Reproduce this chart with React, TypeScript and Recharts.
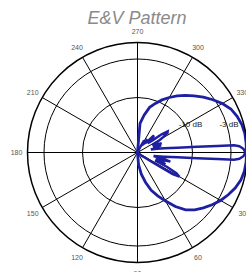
import { RadarChart, Radar, PolarGrid, PolarAngleAxis, PolarRadiusAxis } from "recharts";

// angles are clockwise from 3 o'clock (270 = top), values in dB
const ANGLE_TICKS = [0, 30, 60, 90, 120, 150, 180, 210, 240, 270, 300, 330];
const DB_TICKS = [-10, -3];

// broad pattern (the round lobe)
const E_ANGLES = [
    270, 275, 280, 285, 290, 295, 300, 305, 310, 315, 320, 325, 330, 335, 340, 345, 350, 355,
    0, 5, 10, 15, 20, 25, 30, 35, 40, 45, 50, 55, 60, 65, 70, 75, 80, 85, 90, 180,
];
const E_DB = [
    -20, -14.7, -13.1, -11.5, -10.5, -9.45, -8.45, -7.45, -6.45, -5.45, -4.36, -3.27, -2.18, -1.27, -0.73, -0.36, -0.18, -0.18,
    -0.18, -0.18, -0.27, -0.55, -1.1, -1.8, -2.55, -3.45, -4.36, -5.27, -6.4, -8.0, -9.8, -11.3, -12.7, -14.4, -16, -17.8, -20, -20,
];

// narrow beam with side lobes
const V_ANGLES = [
    270, 290, 296, 299, 303, 306, 309, 312, 314, 316, 318, 321, 323, 325, 327, 329, 331, 333, 335, 337, 339, 341, 343,
    344.5, 346, 347.5, 349, 351, 353.2, 354.6, 355.3, 355.7, 356.5, 358, 0, 2, 3.5, 4.3, 4.7, 5.4, 6.8, 9, 11, 12.5,
    14, 15.5, 17, 18.5, 20, 21.5, 23, 24.5, 26, 28, 30, 31.5, 33, 35, 38, 45, 90, 180,
];
const V_DB = [
    -20, -20, -19, -17.5, -18.5, -17, -17.8, -17.5, -15.7, -16.2, -17.5, -16.5, -14.5, -13.3, -13.5, -14.5, -15.5, -17, -15.8, -16.5, -15.3, -17, -15.5,
    -17, -16, -17.5, -16.4, -15.1, -12.7, -9.1, -5.45, -2.4, -1.45, -0.73, -0.36, -0.73, -1.45, -2.4, -5.45, -9.1, -12.7, -15.1, -16.4, -17,
    -15, -13.8, -15.5, -14.8, -16.5, -15, -14.5, -16.5, -14, -12, -11.2, -12.5, -16.5, -18.5, -19, -20, -20, -20,
];

const eData = E_ANGLES.map((angle, i) => ({ angle, db: E_DB[i] }));
const vData = V_ANGLES.map((angle, i) => ({ angle, db: V_DB[i] }));

const LINE = "#1f1fa3";
const CX = 137.5;
const CY = 152.5;
const R = 110;
const FONT = "'Liberation Sans', Arial, sans-serif";

const AngleTick = ({ x, y, payload }: any) => (
    <text x={x} y={y} textAnchor="middle" dominantBaseline="central" fontSize={7} fill="#555" fontFamily={FONT}>
        {payload.value}
    </text>
);

const DbTick = ({ x, y, payload }: any) => (
    <text x={x - 2} y={y - 28} textAnchor="middle" dominantBaseline="central" fontSize={8} fill="#222" fontFamily={FONT}>
        {`${payload.value} dB`}
    </text>
);

const chartProps = {
    width: 290,
    height: 290,
    cx: CX,
    cy: CY,
    outerRadius: R,
    startAngle: 0,
    endAngle: -360,
    margin: { top: 0, right: 0, bottom: 0, left: 0 },
};

export default function App() {
    return (
        <div style={{ position: "absolute", left: 0, top: 0, width: 246, height: 272, overflow: "hidden", background: "#fff" }}>
            <div
                style={{
                    position: "absolute",
                    left: 37,
                    top: 7,
                    width: 200,
                    height: 22,
                    lineHeight: "22px",
                    textAlign: "center",
                    fontFamily: FONT,
                    fontStyle: "italic",
                    fontSize: 18,
                    color: "#8a8a8a",
                }}
            >
                E&amp;V Pattern
            </div>
            <div style={{ position: "absolute", left: 0, top: 0 }}>
                <RadarChart {...chartProps} data={eData}>
                    <PolarGrid gridType="circle" polarRadius={[55, 93.5]} polarAngles={ANGLE_TICKS} stroke="#000" strokeWidth={1} />
                    <PolarAngleAxis
                        dataKey="angle"
                        type="number"
                        domain={[0, 360]}
                        ticks={ANGLE_TICKS}
                        axisLineType="circle"
                        stroke="#000"
                        strokeWidth={1.5}
                        tickLine={false}
                        tickSize={11}
                        tick={<AngleTick />}
                    />
                    <PolarRadiusAxis
                        angle={0}
                        type="number"
                        domain={[-20, 0]}
                        ticks={DB_TICKS}
                        axisLine={false}
                        tick={<DbTick />}
                    />
                    <Radar dataKey="db" stroke={LINE} strokeWidth={2.8} fill="none" fillOpacity={0} isAnimationActive={false} />
                </RadarChart>
            </div>
            <div style={{ position: "absolute", left: 0, top: 0 }}>
                <RadarChart {...chartProps} data={vData}>
                    <PolarAngleAxis dataKey="angle" type="number" domain={[0, 360]} ticks={ANGLE_TICKS} axisLine={false} tick={false} tickLine={false} />
                    <PolarRadiusAxis type="number" domain={[-20, 0]} axisLine={false} tick={false} />
                    <Radar dataKey="db" stroke={LINE} strokeWidth={2.5} fill="none" fillOpacity={0} isAnimationActive={false} />
                </RadarChart>
            </div>
        </div>
    );
}
